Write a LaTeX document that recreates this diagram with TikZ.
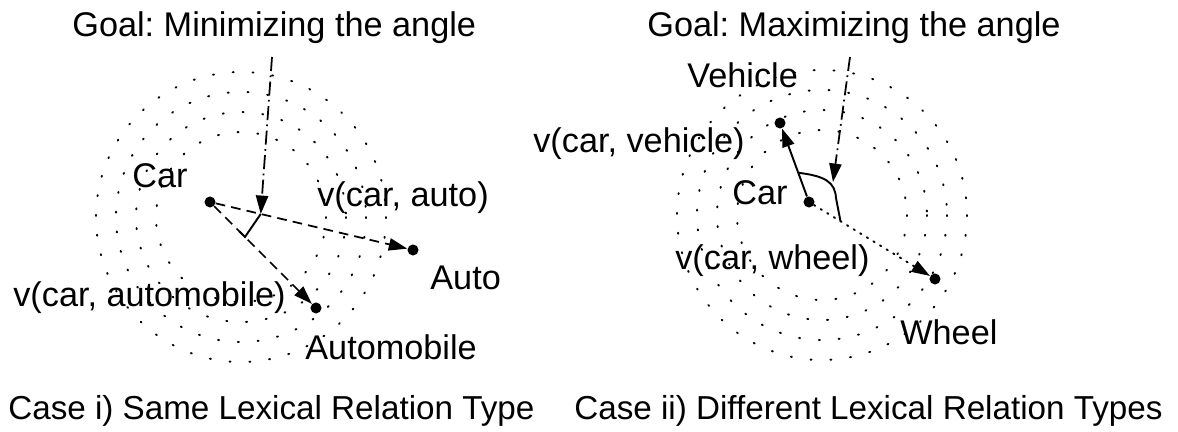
\documentclass[tikz,border=0pt]{standalone}
\usepackage{fontspec}
\setmainfont{Liberation Sans}
\usetikzlibrary{arrows.meta,calc}
\frenchspacing

\begin{document}
\begin{tikzpicture}[x=0.02cm, y=-0.02cm,
	lbl/.style={anchor=base west, inner sep=0pt, font=\fontsize{19.5}{22}\selectfont},
	caption/.style={lbl, font=\fontsize{18.9}{22}\selectfont},
	pt/.style={circle, fill=black, inner sep=0pt, minimum size=6.3pt},
	ring/.style={line width=1.1pt, dash pattern=on 0.6pt off 10.7pt, line cap=round},
	tip/.style={-{Triangle[length=10.5pt, width=7pt]}},
	dasharrow/.style={tip, line width=1pt, dash pattern=on 5.5pt off 3.5pt},
	goalarrow/.style={tip, line width=1pt, dash pattern=on 8pt off 2.5pt on 1pt off 2.5pt},
	dotarrow/.style={tip, line width=1.1pt, dash pattern=on 0.8pt off 3.6pt, line cap=round},
	solidarrow/.style={tip, line width=1.1pt},
	anglemark/.style={line width=1.1pt}]
\useasboundingbox (0,0) rectangle (1178,432);

% dotted rings
\foreach \r in {85,105,125,145}{
	\draw[ring] (241,217) circle (\r);
	\draw[ring] (822,215) circle (\r);
}

% case i
\node[lbl] (titleL) at (72,37) {Goal: Minimizing the angle};
\node[pt] (carL) at (210,202) {};
\node[pt] (autoL) at (413,250) {};
\node[pt] (mobL) at (316,308) {};
\node[lbl] (carLt) at (132,188) {Car};
\node[lbl] (vautoL) at (317,207) {v(car, auto)};
\node[lbl] (autoLt) at (430,290) {Auto};
\node[lbl] (vmobL) at (13,307) {v(car, automobile)};
\node[lbl] (mobLt) at (305,360) {Automobile};
\node[caption] (caseL) at (8,420) {Case i) Same Lexical Relation Type};
\coordinate (goalL) at (272,57);
\coordinate (hitL) at ($(carL)!0.25!(autoL)$);
\coordinate (footL) at ($(carL)!0.33!(mobL)$);
\path[dasharrow]
(carL) edge (autoL)
(carL) edge (mobL)
;
\draw[anglemark] (hitL) -- (footL) -- ($(footL)!4.5pt!(carL)$);
\path[goalarrow] (goalL) edge (hitL);

% case ii
\node[lbl] (titleR) at (647,37) {Goal: Maximizing the angle};
\node[pt] (carR) at (809,202) {};
\node[pt] (vehR) at (780,123) {};
\node[pt] (whlR) at (935,279) {};
\node[lbl] (vehRt) at (687,88) {Vehicle};
\node[lbl] (vvehR) at (533,153) {v(car, vehicle)};
\node[lbl] (carRt) at (732,205) {Car};
\node[lbl] (vwhlR) at (675,270) {v(car, wheel)};
\node[lbl] (whlRt) at (900,345) {Wheel};
\node[caption] (caseR) at (574,420) {Case ii) Different Lexical Relation Types};
\coordinate (goalR) at (850,57);
\coordinate (hitR) at (833,182);
\coordinate (armR) at ($(carR)!0.37!(vehR)$);
\coordinate (legR) at ($(carR)!0.25!(whlR)$);
\path[solidarrow] (carR) edge (vehR);
\path[dotarrow] (carR) edge (whlR);
\draw[anglemark] (armR) .. controls (825,176) and (835,182) .. (836,198) -- (legR);
\path[goalarrow] (goalR) edge (hitR);
\end{tikzpicture}
\end{document}
